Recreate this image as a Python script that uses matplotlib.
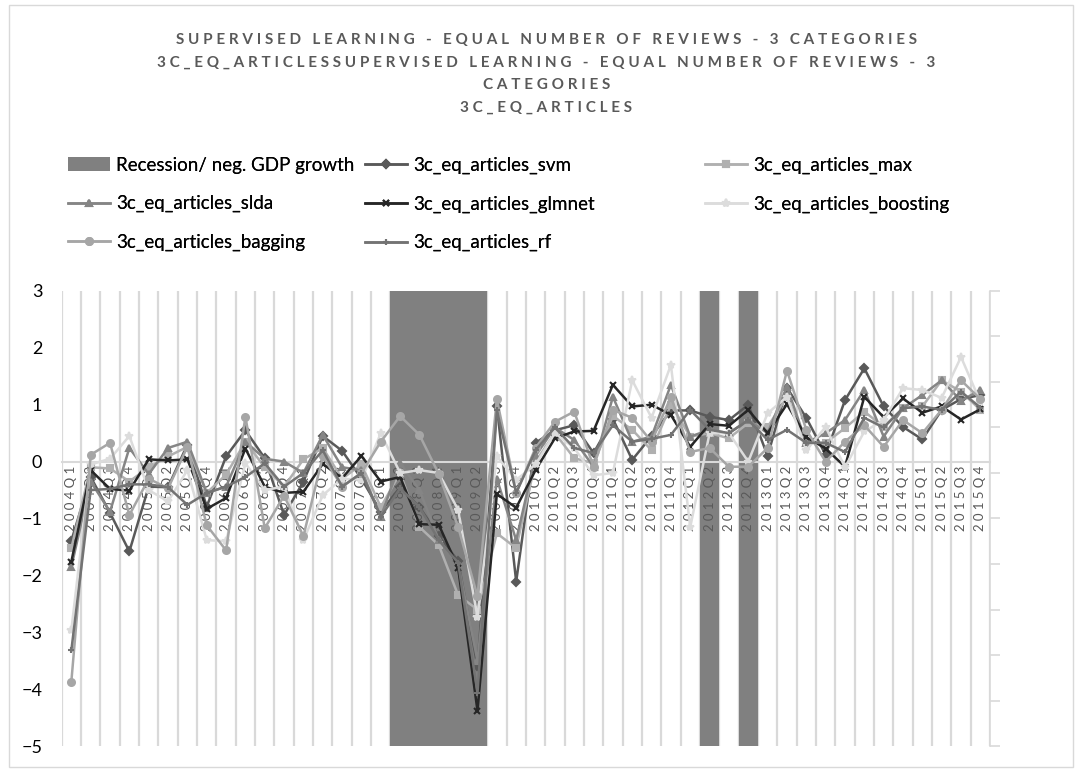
import numpy as np
import matplotlib
matplotlib.use('Agg')
import matplotlib.pyplot as plt
from matplotlib.patches import Rectangle, Patch

plt.rcParams['font.family'] = ['Lato', 'DejaVu Sans']

quarters = [f'{y}Q{q}' for y in range(2004, 2016) for q in range(1, 5)]
recession = ['2008Q2', '2008Q3', '2008Q4', '2009Q1', '2009Q2', '2012Q2', '2012Q4']

svm = [-1.39, -0.27, -0.90, -1.58, -0.44, -0.45, 0.30, -0.79, 0.09, 0.55, 0.06, -0.94,
       -0.35, 0.45, 0.19, -0.30, -0.88, -0.45, -0.80, -1.30, -1.75, -3.60, 0.98, -2.11,
       0.33, 0.55, 0.64, 0.15, 0.75, 0.03, 0.45, 0.90, 0.90, 0.79, 0.73, 1.00,
       0.10, 1.30, 0.77, 0.12, 1.08, 1.64, 0.97, 0.61, 0.39, 0.91, 1.10, 1.17]
max_ = [-1.52, -0.10, -0.12, -0.35, -0.10, 0.09, 0.26, -0.55, -0.23, 0.35, -0.10, -0.44,
        0.04, 0.24, -0.30, -0.05, -0.80, -0.20, -1.15, -1.47, -2.35, -2.60, -1.26, -1.52,
        0.00, 0.50, 0.06, -0.03, 0.80, 0.56, 0.20, 1.00, 0.44, 0.50, 0.41, 0.68,
        0.61, 1.14, 0.33, 0.33, 0.59, 0.88, 0.61, 0.94, 0.97, 1.43, 1.23, 0.91]
slda = [-1.85, -0.35, -0.88, 0.24, -0.22, 0.24, 0.35, -0.55, -0.44, 0.35, 0.05, 0.00,
        -0.20, 0.47, -0.10, -0.15, -0.97, -0.03, -0.50, -1.38, -1.80, -3.50, -0.30, -1.38,
        0.10, 0.60, 0.38, -0.09, 1.14, 0.35, 0.44, 1.35, 0.44, 0.56, 0.50, 0.73,
        0.50, 1.32, 0.33, 0.50, 0.73, 1.26, 0.44, 0.94, 1.17, 1.43, 1.07, 1.26]
glmnet = [-1.76, -0.15, -0.48, -0.51, 0.04, 0.02, 0.04, -0.83, -0.64, 0.23, -0.44, -0.55,
          -0.53, -0.04, -0.29, 0.10, -0.35, -0.27, -1.10, -1.11, -1.87, -4.38, -0.57, -0.81,
          -0.15, 0.41, 0.53, 0.54, 1.35, 0.97, 1.00, 0.82, 0.26, 0.66, 0.63, 0.91,
          0.50, 1.01, 0.43, 0.23, -0.09, 1.14, 0.78, 1.11, 0.86, 0.97, 0.74, 0.92]
boosting = [-2.96, -0.05, 0.05, 0.45, -0.50, -0.70, -0.15, -1.38, -1.40, -0.03, -0.50, -0.44,
            -1.38, -0.59, -0.30, -0.32, 0.50, -0.20, -0.15, -0.20, -0.85, -2.73, 0.09, -0.32,
            -0.05, 0.50, 0.24, -0.24, -0.20, 1.43, 0.77, 1.70, -1.15, 0.50, 0.50, 0.00,
            0.85, 1.14, 0.20, 0.61, -0.10, 0.53, 0.73, 1.29, 1.26, 1.12, 1.84, 1.05]
bagging = [-3.87, 0.12, 0.33, -0.94, -0.30, -0.47, 0.26, -1.12, -1.56, 0.79, -1.17, -0.60,
           -1.31, 0.09, -0.44, -0.20, 0.35, 0.80, 0.47, -0.22, -1.15, -2.37, 1.10, -0.55,
           0.24, 0.70, 0.88, -0.09, 0.91, 0.77, 0.35, 1.14, 0.17, 0.24, -0.09, -0.09,
           0.24, 1.60, 0.56, 0.00, 0.35, 0.64, 0.26, 0.73, 0.50, 0.91, 1.43, 1.10]
rf = [-3.32, -0.50, -0.48, -0.40, -0.40, -0.45, -0.76, -0.55, -0.44, -0.27, -0.03, -0.44,
      -0.20, 0.20, -0.44, -0.20, -0.97, -0.47, -0.80, -1.38, -1.78, -4.07, 0.90, -0.55,
      0.20, 0.60, 0.24, 0.15, 0.64, 0.35, 0.40, 0.47, 0.91, 0.56, 0.50, 0.73,
      0.38, 0.56, 0.33, 0.33, 0.17, 0.77, 0.60, 0.94, 0.97, 0.91, 1.23, 0.95]

title = ('SUPERVISED LEARNING - EQUAL NUMBER OF REVIEWS - 3 CATEGORIES\n'
         '3C_EQ_ARTICLESSUPERVISED LEARNING - EQUAL NUMBER OF REVIEWS - 3\n'
         'CATEGORIES\n'
         '3C_EQ_ARTICLES')


def spaced(s, gap='\u2009\u2009'):
    # letter spacing with thin spaces
    return '\n'.join(gap.join(line) for line in s.split('\n'))


x = np.arange(len(quarters))
rec = [1 if q in recession else 0 for q in quarters]

fig = plt.figure(figsize=(10.8, 7.71), dpi=100)
fig.add_artist(Rectangle((9 / 1080, 4 / 771), 1064 / 1080, 762 / 771,
                         transform=fig.transFigure, fill=False,
                         edgecolor='#D9D9D9', lw=1))
rect = [0.0571, 0.0324, 0.8596, 0.5902]

# recession columns on the secondary (0-1) axis
ax_bg = fig.add_axes(rect)
ax_bg.bar(x, rec, width=1.0, color='#808080', zorder=2)
ax_bg.set_xlim(-0.5, 47.5)
ax_bg.set_ylim(0, 1)
ax_bg.set_xticks(np.arange(-0.5, 48, 1))
ax_bg.tick_params(axis='x', length=0, labelbottom=False)
ax_bg.grid(axis='x', color='#D9D9D9', lw=1.6)
ax_bg.set_axisbelow(True)
ax_bg.yaxis.tick_right()
ax_bg.set_yticks(np.arange(0, 1.01, 0.1))
ax_bg.tick_params(axis='y', length=7, color='#D9D9D9', width=1.2, labelright=False)
for s in ['left', 'top', 'bottom']:
    ax_bg.spines[s].set_visible(False)
ax_bg.spines['right'].set_color('#D9D9D9')
ax_bg.spines['right'].set_linewidth(1.2)

ax = fig.add_axes(rect)
ax.patch.set_visible(False)
styles = [
    ('3c_eq_articles_svm', svm, '#595959', 'D', 4),
    ('3c_eq_articles_max', max_, '#B0B0B0', 's', 5),
    ('3c_eq_articles_slda', slda, '#858585', '^', 5),
    ('3c_eq_articles_glmnet', glmnet, '#262626', 'x', 5),
    ('3c_eq_articles_boosting', boosting, '#DCDCDC', '*', 6),
    ('3c_eq_articles_bagging', bagging, '#A6A6A6', 'o', 5),
    ('3c_eq_articles_rf', rf, '#737373', '+', 5),
]
lines = {}
for name, vals, col, mk, ms in styles:
    ln, = ax.plot(x, vals, color=col, marker=mk, ms=ms, mew=1.5, lw=1.8,
                  zorder=3, label=name)
    lines[name] = ln

ax.set_xlim(-0.5, 47.5)
ax.set_ylim(-5, 3)
ax.spines['bottom'].set_position(('data', 0))
ax.spines['bottom'].set_color('#D9D9D9')
ax.spines['bottom'].set_linewidth(1.5)
for s in ['left', 'right', 'top']:
    ax.spines[s].set_visible(False)
ax.set_xticks(x)
ax.set_xticklabels([spaced(q) for q in quarters], rotation=90, fontsize=9.5, color='#595959')
ax.tick_params(axis='x', length=0, pad=3)
ax.set_yticks(range(-5, 4))
ax.tick_params(axis='y', length=0, pad=14, labelsize=13)

fig.text(0.506, 0.904, spaced(title), ha='center', va='center', fontsize=11,
         fontweight='bold', color='#595959', linespacing=1.76)

rec_patch = Patch(facecolor='#808080', label='Recession/ neg. GDP growth')
cols = [
    ([rec_patch, lines['3c_eq_articles_slda'], lines['3c_eq_articles_bagging']], 0.063),
    ([lines['3c_eq_articles_svm'], lines['3c_eq_articles_glmnet'], lines['3c_eq_articles_rf']], 0.338),
    ([lines['3c_eq_articles_max'], lines['3c_eq_articles_boosting']], 0.653),
]
for handles, xpos in cols:
    leg = fig.legend(handles=handles, loc='upper left', bbox_to_anchor=(xpos, 0.797),
                     frameon=False, fontsize=13.5, handlelength=2.25, handletextpad=0.3,
                     labelspacing=1.15, borderpad=0, borderaxespad=0, numpoints=1)
    fig.add_artist(leg)

fig.savefig('out.png', dpi=100)
